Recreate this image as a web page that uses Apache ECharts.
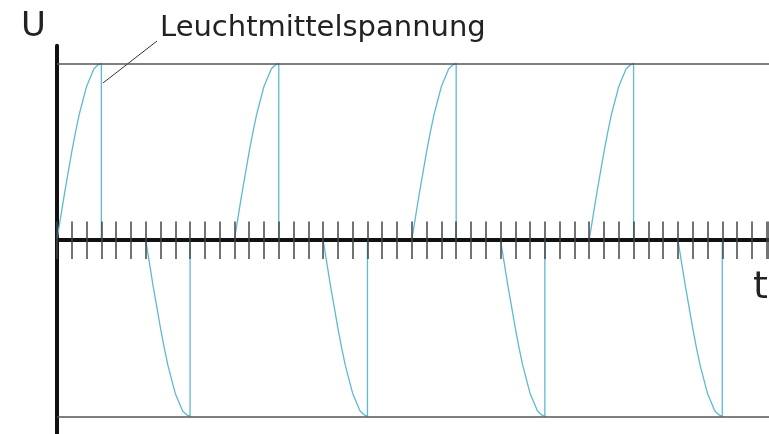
<!DOCTYPE html>
<html>
<head>
<meta charset="utf-8">
<script src="https://cdn.jsdelivr.net/npm/echarts@6/dist/echarts.min.js"></script>
<style>
  html, body { margin: 0; padding: 0; background: #fff; }
  #chart { width: 769px; height: 434px; }
</style>
</head>
<body>
<div id="chart"></div>
<script>
  // time in tick units (one tick = 1/12 of a period), voltage normalised to the peak
  const xMax = 48.16;
  const riseX = [0, 0.25, 0.5, 0.75, 1, 1.25, 1.5, 1.75, 2, 2.25, 2.5, 2.75, 3];
  const riseU = [0, 0.13, 0.26, 0.38, 0.5, 0.61, 0.71, 0.79, 0.87, 0.92, 0.97, 0.99, 1];
  const posStarts = [0, 12, 24, 36];
  const negStarts = [6, 18, 30, 42];
  const limitLines = [1, -1];

  const pulses = posStarts.map(s => [s, 1]).concat(negStarts.map(s => [s, -1]))
    .sort((a, b) => a[0] - b[0]);
  const wave = [];
  pulses.forEach(p => {
    riseX.forEach((dx, i) => wave.push([p[0] + dx, p[1] * riseU[i]]));
    wave.push([p[0] + riseX[riseX.length - 1], 0]);
  });
  wave.push([48, 0]);

  const gridTop = 45.8;
  const zeroY = 240.5;
  const tickStyle = { show: true, length: 19, lineStyle: { color: '#444', width: 1.5 } };
  const xBase = {
    type: 'value',
    min: 0,
    max: xMax,
    interval: 1,
    z: 5,
    axisLabel: { show: false },
    splitLine: { show: false },
    axisTick: tickStyle
  };

  const chart = echarts.init(document.getElementById('chart'));
  chart.setOption({
    animation: false,
    grid: { left: 57, right: 0, top: gridTop, height: 389.4 },
    xAxis: [
      Object.assign({}, xBase, {
        position: 'bottom',
        axisLine: { show: true, onZero: true, lineStyle: { color: '#111', width: 4 } }
      }),
      // second copy only for the upper half of the ticks, moved down onto the zero line
      Object.assign({}, xBase, {
        position: 'top',
        offset: -(zeroY - gridTop),
        axisLine: { show: false, onZero: false }
      })
    ],
    yAxis: {
      type: 'value',
      min: -1.1,
      max: 1.1,
      axisLabel: { show: false },
      axisTick: { show: false },
      splitLine: { show: false },
      axisLine: { show: true, onZero: false, lineStyle: { color: '#111', width: 4 } }
    },
    series: [
      {
        type: 'line',
        data: wave,
        showSymbol: false,
        silent: true,
        lineStyle: { color: '#5fb9d3', width: 1.3 },
        markLine: {
          silent: true,
          symbol: 'none',
          label: { show: false },
          lineStyle: { color: '#555', width: 1.5, type: 'solid' },
          data: limitLines.map(v => ({ yAxis: v }))
        }
      }
    ],
    graphic: [
      { type: 'text', style: { text: 'U', x: 21, y: 10.5, font: '34px "DejaVu Sans"', fill: '#222' } },
      { type: 'text', style: { text: 'Leuchtmittelspannung', x: 160, y: 13.5, font: '29px "DejaVu Sans"', fill: '#222' } },
      { type: 'text', style: { text: 't', x: 753, y: 269, font: '38px "DejaVu Sans"', fill: '#222' } },
      { type: 'line', shape: { x1: 157, y1: 41, x2: 103, y2: 83 }, style: { stroke: '#333', lineWidth: 1 } }
    ]
  });
</script>
</body>
</html>
